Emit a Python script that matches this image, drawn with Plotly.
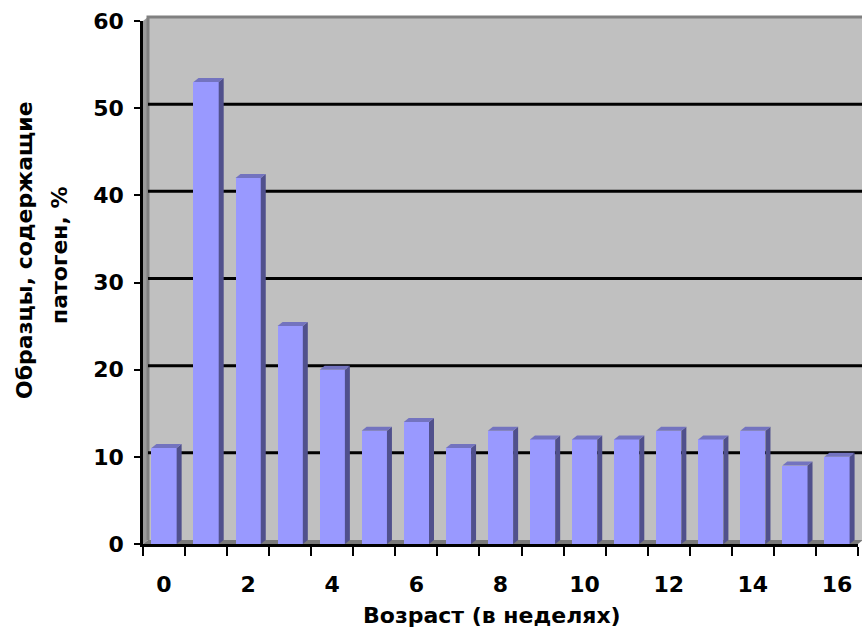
import plotly.graph_objects as go

weeks = list(range(17))
positive_pct = [11, 53, 42, 25, 20, 13, 14, 11, 13, 12, 12, 12, 13, 12, 13, 9, 10]
x_tick_vals = [0, 2, 4, 6, 8, 10, 12, 14, 16]
x_tick_text = ["0", "2", "4", "6", "8", "10", "12", "14", "16"]
y_tick_vals = [0, 10, 20, 30, 40, 50, 60]

y_title_line1 = "Образцы, содержащие"
y_title_line2 = "патоген, %"
x_title = "Возраст (в неделях)"

W, H = 862, 638
ML, MR, MT, MB = 143, 4, 21, 94
PW, PH = W - ML - MR, H - MT - MB
YMAX = 60
DX, DY = 5, 4            # 3-D depth offset in pixels
BAR_W = 0.6
FONT = "DejaVu Sans"

FRONT = "#9999FF"
SIDE = "#50508C"
TOP = "#7373BF"

fig = go.Figure()
fig.add_trace(go.Bar(x=weeks, y=positive_pct, width=BAR_W,
                     marker=dict(color=FRONT, line=dict(width=0)),
                     hoverinfo="x+y"))

shapes = []
# left side wall
shapes.append(dict(type="path", layer="below", xref="paper", yref="paper",
                   xsizemode="pixel", ysizemode="pixel", xanchor=0, yanchor=0,
                   path=f"M0,0 L{DX},{DY} L{DX},{PH+DY} L0,{PH} Z",
                   fillcolor="#9A9A9A", line=dict(width=0)))
# back wall
shapes.append(dict(type="path", layer="below", xref="paper", yref="paper",
                   xsizemode="pixel", ysizemode="pixel", xanchor=0, yanchor=0,
                   path=f"M{DX},{DY} L{PW+DX+10},{DY} L{PW+DX+10},{PH+DY} L{DX},{PH+DY} Z",
                   fillcolor="#C0C0C0", line=dict(width=0)))
# wall border (top & left edge)
shapes.append(dict(type="path", layer="below", xref="paper", yref="paper",
                   xsizemode="pixel", ysizemode="pixel", xanchor=0, yanchor=0,
                   path=f"M{DX},{DY} L{DX},{PH+DY} L{PW+DX+10},{PH+DY}",
                   fillcolor="rgba(0,0,0,0)", line=dict(color="#808080", width=3)))
# floor
shapes.append(dict(type="path", layer="below", xref="paper", yref="paper",
                   xsizemode="pixel", ysizemode="pixel", xanchor=0, yanchor=0,
                   path=f"M0,0 L{PW},0 L{PW+DX},{DY} L{DX},{DY} Z",
                   fillcolor="#7A7A7A", line=dict(width=0)))
# gridlines on the back wall
for v in y_tick_vals[1:-1]:
    shapes.append(dict(type="line", layer="below", xref="paper", yref="y",
                       xsizemode="pixel", ysizemode="pixel", xanchor=0, yanchor=v,
                       x0=DX, x1=PW + DX + 10, y0=DY, y1=DY,
                       line=dict(color="black", width=3)))
# bar depth faces, derived from the data
dy_data = DY * YMAX / PH
bar_px = BAR_W * PW / len(weeks)
for x, v in zip(weeks, positive_pct):
    shapes.append(dict(type="path", xref="x", yref="y", xsizemode="pixel",
                       xanchor=x + BAR_W / 2,
                       path=f"M0,0 L0,{v} L{DX},{v + dy_data} L{DX},{dy_data} Z",
                       fillcolor=SIDE, line=dict(width=0)))
    shapes.append(dict(type="path", xref="x", yref="y", xsizemode="pixel",
                       ysizemode="pixel", xanchor=x - BAR_W / 2, yanchor=v,
                       path=f"M0,0 L{bar_px:.2f},0 L{bar_px + DX:.2f},{DY} L{DX},{DY} Z",
                       fillcolor=TOP, line=dict(width=0)))

title_font = dict(family=FONT, size=22, color="black", weight="bold")
annotations = [
    dict(text=y_title_line1, xref="paper", yref="paper", x=0, xshift=24 - ML,
         y=(H - MB - 250) / PH, textangle=-90, showarrow=False,
         xanchor="center", yanchor="middle", font=title_font),
    dict(text=y_title_line2, xref="paper", yref="paper", x=0, xshift=59 - ML,
         y=(H - MB - 255) / PH, textangle=-90, showarrow=False,
         xanchor="center", yanchor="middle", font=title_font),
    dict(text=x_title, xref="paper", yref="paper", x=(492 - ML) / PW,
         y=(H - MB - 615) / PH, showarrow=False, xanchor="center", yanchor="middle",
         font=title_font),
]

fig.update_layout(
    width=W, height=H,
    margin=dict(l=ML, r=MR, t=MT, b=MB, pad=0),
    paper_bgcolor="white", plot_bgcolor="white",
    showlegend=False, bargap=0,
    shapes=shapes, annotations=annotations,
    font=dict(family=FONT, color="black"),
    xaxis=dict(range=[-0.5, len(weeks) - 0.5], tickmode="array",
               tickvals=x_tick_vals, ticktext=x_tick_text, ticks="",
               showgrid=False, zeroline=False, showline=True,
               linecolor="black", linewidth=2.5,
               tickfont=dict(family=FONT, size=22, color="black", weight="bold"),
               ticklabelstandoff=19,
               minor=dict(tickmode="linear", tick0=-0.5, dtick=1, ticks="outside",
                          ticklen=9, tickwidth=2, tickcolor="black", showgrid=False)),
    yaxis=dict(range=[0, YMAX], tickmode="array", tickvals=y_tick_vals,
               ticks="outside", ticklen=6, tickwidth=2, tickcolor="black",
               showgrid=False, zeroline=False, showline=True,
               linecolor="black", linewidth=2.5,
               tickfont=dict(family=FONT, size=22, color="black", weight="bold"),
               ticklabelstandoff=6),
)

fig.write_html("out.html", config={"displayModeBar": False},
               post_script="document.body.style.margin='0px';document.body.style.overflow='hidden';")
